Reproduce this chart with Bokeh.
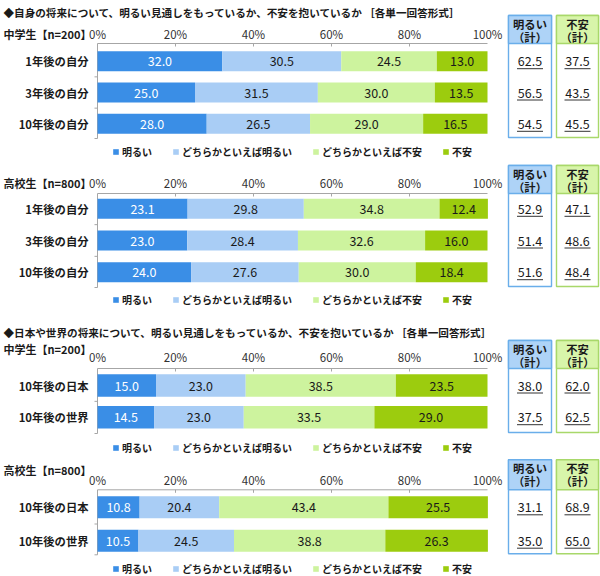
from bokeh.core.properties import value
from bokeh.embed import file_html
from bokeh.models import ColumnDataSource, Legend, LegendItem, Range1d
from bokeh.plotting import figure
from bokeh.resources import INLINE

JP = "Noto Sans CJK JP"
GREY = "#a6a6a6"
INK = "#1a1a1a"

# answer categories / colours
answer_labels = ["明るい", "どちらかといえば明るい", "どちらかといえば不安", "不安"]
answer_colors = ["#3a8ee6", "#a9cdf5", "#cdf39e", "#9ccc0e"]
ticks = [0, 20, 40, 60, 80, 100]

heading_self = "◆自身の将来について、明るい見通しをもっているか、不安を抱いているか ［各単一回答形式］"
heading_world = "◆日本や世界の将来について、明るい見通しをもっているか、不安を抱いているか ［各単一回答形式］"
group_jh = "中学生【n=200】"
group_hs = "高校生【n=800】"

# own future
self_rows = ["1年後の自分", "3年後の自分", "10年後の自分"]
jh_self_bright = [32.0, 25.0, 28.0]
jh_self_fbright = [30.5, 31.5, 26.5]
jh_self_fanx = [24.5, 30.0, 29.0]
jh_self_anx = [13.0, 13.5, 16.5]
jh_self_tot_bright = [62.5, 56.5, 54.5]
jh_self_tot_anx = [37.5, 43.5, 45.5]

hs_self_bright = [23.1, 23.0, 24.0]
hs_self_fbright = [29.8, 28.4, 27.6]
hs_self_fanx = [34.8, 32.6, 30.0]
hs_self_anx = [12.4, 16.0, 18.4]
hs_self_tot_bright = [52.9, 51.4, 51.6]
hs_self_tot_anx = [47.1, 48.6, 48.4]

# future of Japan / world
world_rows = ["10年後の日本", "10年後の世界"]
jh_world_bright = [15.0, 14.5]
jh_world_fbright = [23.0, 23.0]
jh_world_fanx = [38.5, 33.5]
jh_world_anx = [23.5, 29.0]
jh_world_tot_bright = [38.0, 37.5]
jh_world_tot_anx = [62.0, 62.5]

hs_world_bright = [10.8, 10.5]
hs_world_fbright = [20.4, 24.5]
hs_world_fanx = [43.4, 38.8]
hs_world_anx = [25.5, 26.3]
hs_world_tot_bright = [31.1, 35.0]
hs_world_tot_anx = [68.9, 65.0]

W, H = 600, 576
FRAME_LEFT = 97
FRAME_W = 390
PPX = FRAME_W / 100


def px(xp):
    # canvas pixel -> percent units of the bar scale
    return (xp - FRAME_LEFT) / PPX


p = figure(width=W, height=H, x_range=Range1d(px(0), px(W)), y_range=Range1d(H, 0),
           toolbar_location=None, tools="", output_backend="svg", min_border=0,
           x_axis_location=None, y_axis_location=None)
p.outline_line_color = None
p.grid.visible = False


def txt(x, y, s, size="11px", bold=False, align="left", color=INK):
    p.text(x=x, y=y, text=s, text_align=align, text_baseline="middle",
           text_font=value(JP), text_font_size=size,
           text_font_style="bold" if bold else "normal", text_color=color)


def add_panel(rows, series, tot_bright, tot_anx, group, heading, heading_y, group_y,
              tick_y, top, bottom, row_y0, pitch, legend_y, head_top, bar_h):
    n = len(rows)
    ys = [row_y0 + pitch * i for i in range(n)]

    if heading:
        txt([px(3)], [heading_y], [heading], size="10.6px", bold=True)
    txt([px(3)], [group_y], [group], size="11px", bold=True)

    # axis: top line, ticks, labels, left line with row separators
    txt(ticks, [tick_y] * len(ticks), [f"{t}%" for t in ticks], size="11.5px",
        align="center", color="#333333")
    p.segment(x0=[0, 0], y0=[top, top], x1=[100, 0], y1=[top, bottom], line_color=GREY, line_width=1)
    p.segment(x0=ticks[1:-1], x1=ticks[1:-1], y0=[top] * 4, y1=[top + 3] * 4, line_color=GREY)
    sep = [(ys[i] + ys[i + 1]) / 2 for i in range(n - 1)] + [bottom]
    p.segment(x0=[px(FRAME_LEFT - 3)] * n, x1=[0] * n, y0=sep, y1=sep, line_color=GREY)
    txt([px(88)] * n, ys, rows, size="11.3px", bold=True, align="right")

    keys = ["s0", "s1", "s2", "s3"]
    data = dict(y=ys)
    for k, vals in zip(keys, series):
        data[k] = vals
    rs = p.hbar_stack(keys, y="y", height=bar_h, fill_color=answer_colors,
                      line_color=None, source=ColumnDataSource(data))

    xs, vy, vt, vc = [], [], [], []
    for i in range(n):
        left = 0
        for j, vals in enumerate(series):
            xs.append(left + vals[i] / 2)
            vy.append(ys[i])
            vt.append(f"{vals[i]:.1f}")
            vc.append("white" if j == 0 else INK)
            left += vals[i]
    p.text(x=xs, y=vy, text=vt, text_color=vc, text_align="center", text_baseline="middle",
           text_font=value(JP), text_font_size="12.5px")

    leg = Legend(items=[LegendItem(label=lab, renderers=[r]) for lab, r in zip(answer_labels, rs)],
                 orientation="horizontal", location=(112, H - legend_y - 6.5),
                 glyph_width=7, glyph_height=7, label_height=12, label_standoff=3,
                 spacing=20, padding=0, margin=0, border_line_color=None,
                 background_fill_alpha=0, label_text_font=JP, label_text_font_size="10px",
                 label_text_font_style="bold", label_text_color=INK, label_text_baseline="middle")
    p.add_layout(leg)

    # summary boxes
    boxes = [(508, 551, "#aed3f7", "#6aaeea", "明るい", tot_bright),
             (556, 598, "#d8f5aa", "#a8d86a", "不安", tot_anx)]
    for l, r, fill, border, name, vals in boxes:
        c = (l + r) / 2
        p.quad(left=[px(l)], right=[px(r)], top=[head_top], bottom=[bottom - 1],
               fill_color="white", line_color=border, line_width=1.4)
        p.quad(left=[px(l)], right=[px(r)], top=[head_top], bottom=[top],
               fill_color=fill, line_color=border, line_width=1.4)
        txt([px(c)] * 2, [head_top + 8, head_top + 21], [name, "（計）"], size="11.3px",
            bold=True, align="center")
        txt([px(c)] * n, ys, [f"{v:.1f}" for v in vals], size="12.5px", align="center")
        uy = [y + 7.5 for y in ys]
        p.segment(x0=[px(c - 13)] * n, x1=[px(c + 13)] * n, y0=uy, y1=uy,
                  line_color="#333333", line_width=1)


add_panel(self_rows, [jh_self_bright, jh_self_fbright, jh_self_fanx, jh_self_anx],
          jh_self_tot_bright, jh_self_tot_anx, group_jh, heading_self,
          12, 33, 33, 43, 138, 60.7, 31.3, 152, 15, 20)
add_panel(self_rows, [hs_self_bright, hs_self_fbright, hs_self_fanx, hs_self_anx],
          hs_self_tot_bright, hs_self_tot_anx, group_hs, None,
          0, 182, 182, 193, 287, 208.3, 31.7, 300, 165, 20)
add_panel(world_rows, [jh_world_bright, jh_world_fbright, jh_world_fanx, jh_world_anx],
          jh_world_tot_bright, jh_world_tot_anx, group_jh, heading_world,
          331.7, 348.3, 356.7, 368, 433, 385, 31.7, 448, 340, 22.5)
add_panel(world_rows, [hs_world_bright, hs_world_fbright, hs_world_fanx, hs_world_anx],
          hs_world_tot_bright, hs_world_tot_anx, group_hs, None,
          0, 469.3, 479.3, 489.3, 554.3, 506.8, 33.4, 569, 459.3, 22)

open("out.html", "w").write(file_html(p, INLINE))
